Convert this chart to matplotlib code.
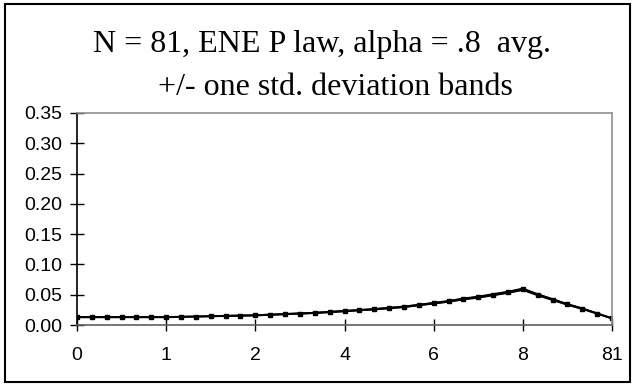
import numpy as np
import matplotlib
matplotlib.use("Agg")
import matplotlib.pyplot as plt
from matplotlib.patches import Rectangle

# chart values
tick_labels = ["0", "1", "2", "4", "6", "8", "81"]
avg = [0.013, 0.013, 0.013, 0.013, 0.013, 0.013, 0.013,
       0.0135, 0.014, 0.0145, 0.015, 0.0155, 0.016,
       0.017, 0.018, 0.019, 0.020, 0.0215, 0.023,
       0.0245, 0.026, 0.028, 0.030, 0.033, 0.036,
       0.039, 0.043, 0.046, 0.050, 0.054, 0.059,
       0.050, 0.042, 0.034, 0.027, 0.019, 0.011]
std = [0.0006, 0.0006, 0.0006, 0.0006, 0.0006, 0.0006, 0.0006,
       0.0006, 0.0006, 0.0006, 0.0007, 0.0007, 0.0007,
       0.0007, 0.0008, 0.0008, 0.0008, 0.0009, 0.0009,
       0.0009, 0.0010, 0.0010, 0.0011, 0.0011, 0.0012,
       0.0013, 0.0014, 0.0015, 0.0016, 0.0017, 0.0018,
       0.0016, 0.0014, 0.0012, 0.0010, 0.0008, 0.0006]

x = np.arange(len(avg))
avg = np.array(avg)
std = np.array(std)

fig = plt.figure(figsize=(6.34, 3.86), dpi=100)
ax = fig.add_axes([0.1215, 0.158, 0.8438, 0.5493])

ax.plot(x, avg + std, color="black", linewidth=0.8)
ax.plot(x, avg - std, color="black", linewidth=0.8)
ax.plot(x, avg, color="black", linewidth=1.5, marker="s", markersize=3)

ax.set_xlim(0, len(avg) - 1)
ax.set_ylim(0, 0.35)
ax.set_xticks(x[::6])
ax.set_xticklabels(tick_labels)
ax.set_yticks(np.arange(0, 0.351, 0.05))
ax.set_yticklabels(["%.2f" % v for v in np.arange(0, 0.351, 0.05)])

for lab in ax.get_xticklabels() + ax.get_yticklabels():
    lab.set_fontfamily("Liberation Sans")
    lab.set_fontsize(14)
ax.tick_params(axis="y", direction="inout", length=10, width=1, pad=6)
ax.tick_params(axis="x", direction="inout", length=9, width=1, pad=11)

ax.spines["left"].set_color("black")
ax.spines["left"].set_linewidth(1.2)
ax.spines["bottom"].set_color("#606060")
ax.spines["bottom"].set_linewidth(1.2)
ax.spines["top"].set_color("#909090")
ax.spines["right"].set_color("#909090")
ax.spines["top"].set_linewidth(1.2)
ax.spines["right"].set_linewidth(1.2)

fig.text(322 / 634, 1 - 52 / 386, "N = 81, ENE P law, alpha = .8  avg.",
         ha="center", va="baseline", fontsize=23, family="Liberation Serif")
fig.text(335 / 634, 1 - 95 / 386, "+/- one std. deviation bands",
         ha="center", va="baseline", fontsize=23, family="Liberation Serif")

fig.patches.append(Rectangle((5 / 634, 4 / 386), 625 / 634, 378 / 386,
                             transform=fig.transFigure, fill=False,
                             edgecolor="black", linewidth=1.5))

fig.savefig("out.png", dpi=100)
